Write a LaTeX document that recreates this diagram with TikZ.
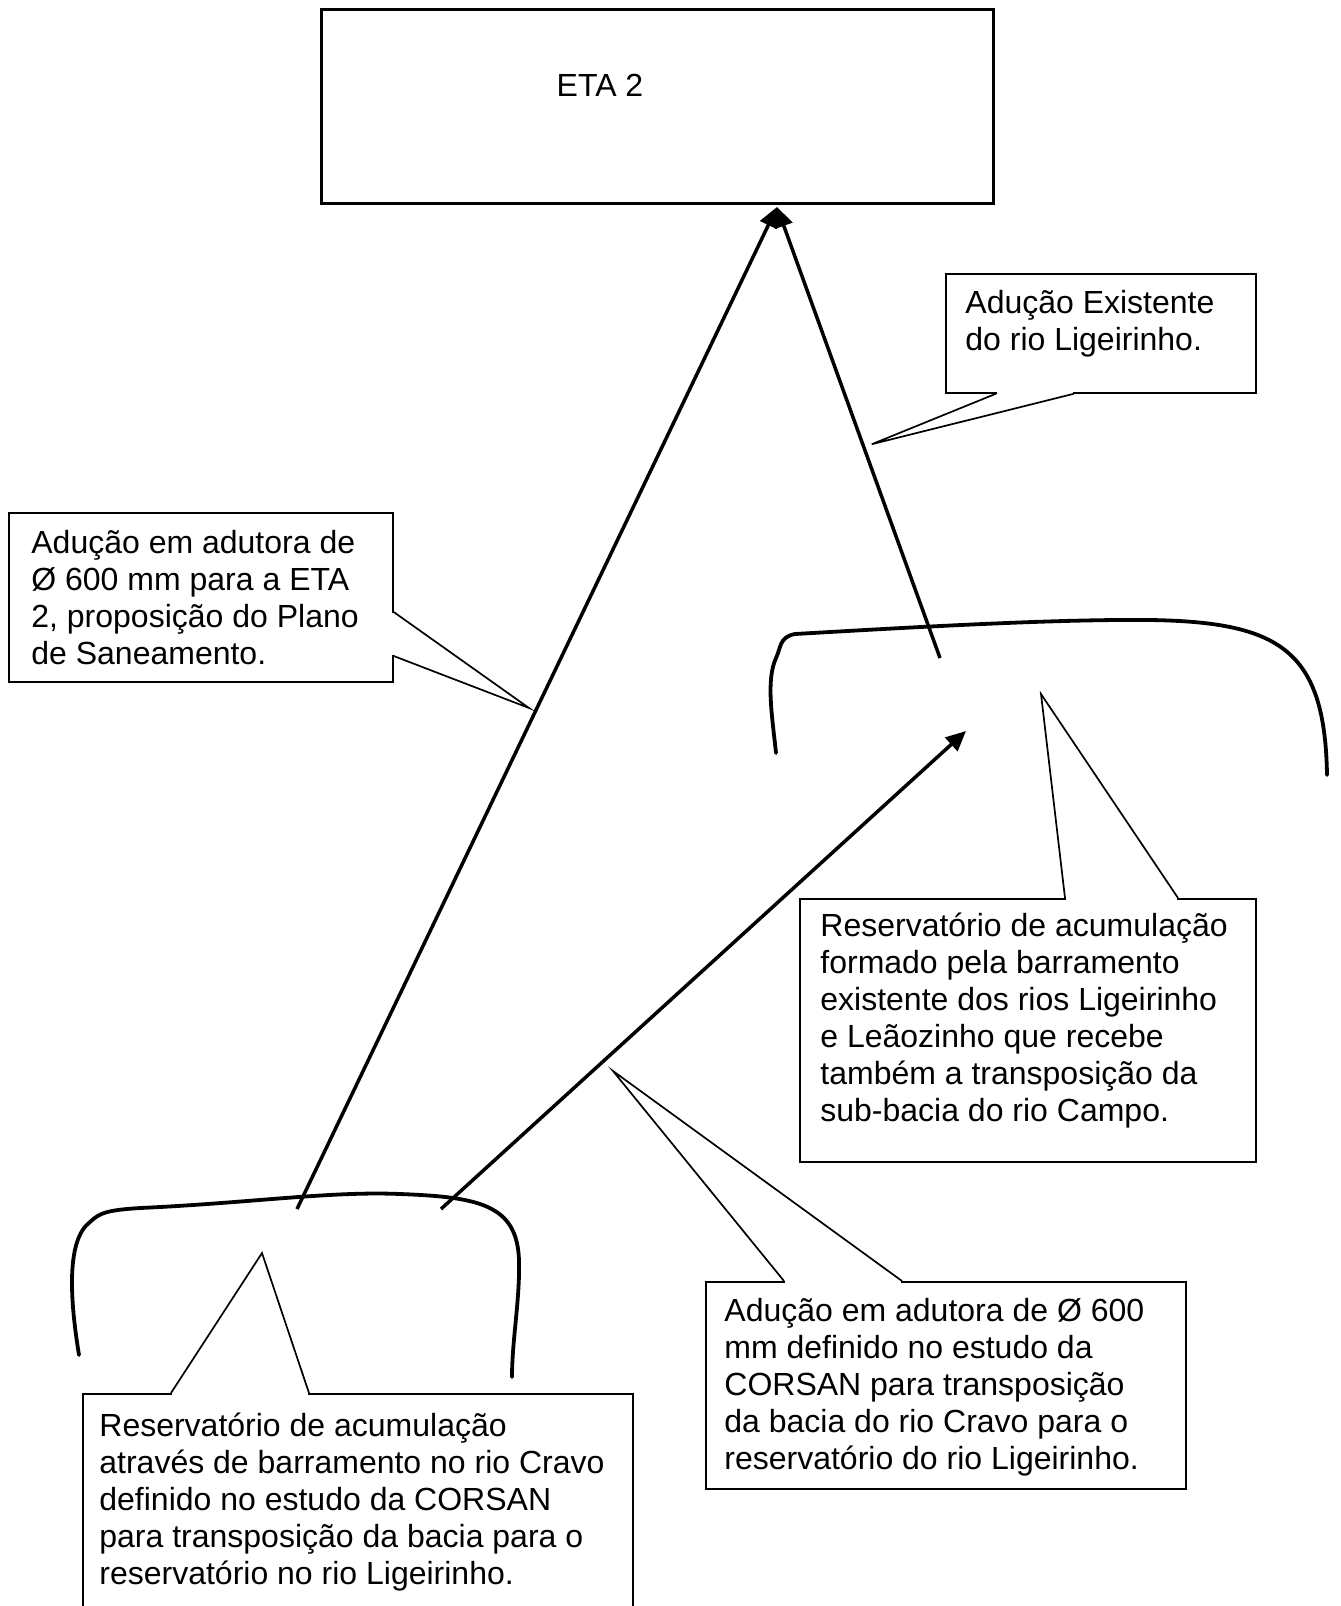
\documentclass[tikz,border=0pt]{standalone}
\usepackage{fontspec}
\setmainfont{Liberation Sans}
\usetikzlibrary{calc,arrows.meta}

\tikzset{
  callbox/.style={draw, line width=0.85pt, anchor=north west, inner sep=0pt},
  txt/.style={anchor=north west, inner sep=0pt, align=left, font=\fontsize{16pt}{18.5pt}\selectfont},
  duct/.style={line width=1.75pt, -{Triangle[length=10pt,width=9pt]}},
  callptr/.style={line width=0.85pt, line join=miter},
  dam/.style={line width=1.9pt, line cap=round}
}

\begin{document}
\begin{tikzpicture}[x=0.5pt, y=-0.5pt]
\useasboundingbox (0,0) rectangle (1340,1606);
\clip (0,0) rectangle (1340,1606);

\node[callbox, line width=1.5pt, minimum width=336pt, minimum height=97pt] (eta) at (320,8) {};
\node[txt, anchor=center] (etat) at (600,85) {ETA 2};
\coordinate (in) at ($(eta.south west)+(457,2)$);

\draw[dam] (79,1355) .. controls (70,1300) and (66,1240) .. (90,1222)
  .. controls (100,1212) and (110,1210) .. (140,1208)
  .. controls (250,1203) and (330,1191) .. (400,1194)
  .. controls (480,1197) and (517,1205) .. (519,1260)
  .. controls (520,1300) and (512,1340) .. (512,1377);
\draw[dam] (776,753) .. controls (772,715) and (766,680) .. (776,658)
  .. controls (781,648) and (779,637) .. (795,634)
  .. controls (900,628) and (1050,619) .. (1150,620)
  .. controls (1280,622) and (1325,650) .. (1327,775);

\coordinate (cravo) at (297,1209);
\coordinate (cravob) at (441,1209);
\coordinate (ligeir) at (940,658);
\coordinate (ligeirin) at (966,731);
\draw[duct] (cravo) -- (in);
\draw[duct] (ligeir) -- (in);
\draw[duct] (cravob) -- (ligeirin);

\node[callbox, minimum width=155pt, minimum height=59.5pt] (exist) at (945,273) {};
\node[txt] (existt) at (965,290) {Adução Existente\\do rio Ligeirinho.};
\fill[white] ($(exist.south west)+(52,-3)$) rectangle ($(exist.south west)+(128,3)$);
\draw[callptr] ($(exist.south west)+(51,0)$) -- ($(in)!0.526!(ligeir)+(9,0)$) -- ($(exist.south west)+(129,0)$);

\node[callbox, minimum width=192pt, minimum height=84.5pt] (prop) at (8,512) {};
\node[txt] (propt) at (31,530) {Adução em adutora de\\Ø 600 mm para a ETA\\2, proposição do Plano\\de Saneamento.};
\fill[white] ($(prop.north east)+(-3,101)$) rectangle ($(prop.north east)+(3,143)$);
\draw[callptr] ($(prop.north east)+(0,100)$) -- ($(cravo)!0.5!(in)+(-8,0)$) -- ($(prop.north east)+(0,144)$);

\coordinate (ligres) at (1041,694);
\node[callbox, minimum width=228pt, minimum height=131.5pt] (lig) at (799,898) {};
\node[txt] (ligt) at (820,913) {Reservatório de acumulação\\formado pela barramento\\existente dos rios Ligeirinho\\e Leãozinho que recebe\\também a transposição da\\sub-bacia do rio Campo.};
\fill[white] ($(lig.north west)+(267,-3)$) rectangle ($(lig.north west)+(378,3)$);
\draw[callptr] ($(lig.north west)+(266,0)$) -- (ligres) -- ($(lig.north west)+(379,0)$);

\coordinate (transp) at (613,1071);
\node[callbox, minimum width=240pt, minimum height=103.5pt] (trans) at (705,1281) {};
\node[txt] (transt) at (724,1298) {Adução em adutora de Ø 600\\mm definido no estudo da\\CORSAN para transposição\\da bacia do rio Cravo para o\\reservatório do rio Ligeirinho.};
\fill[white] ($(trans.north west)+(80,-3)$) rectangle ($(trans.north west)+(196,3)$);
\draw[callptr] ($(trans.north west)+(79,0)$) -- (transp) -- ($(trans.north west)+(197,0)$);

\coordinate (cravores) at (262,1253);
\node[callbox, minimum width=275pt, minimum height=120pt] (cravoc) at (82,1393) {};
\node[txt] (cravot) at (99,1413) {Reservatório de acumulação\\através de barramento no rio Cravo\\definido no estudo da CORSAN\\para transposição da bacia para o\\reservatório no rio Ligeirinho.};
\fill[white] ($(cravoc.north west)+(90,-3)$) rectangle ($(cravoc.north west)+(226,3)$);
\draw[callptr] ($(cravoc.north west)+(89,0)$) -- (cravores) -- ($(cravoc.north west)+(227,0)$);
\end{tikzpicture}
\end{document}
